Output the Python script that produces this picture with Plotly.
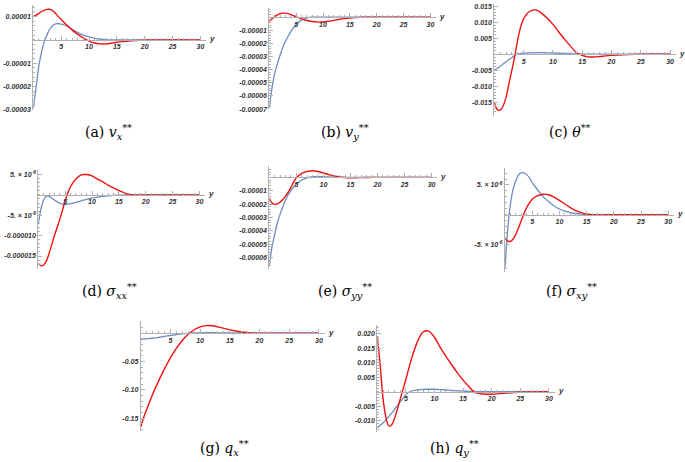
#! /usr/bin/env python3

import numpy as np
import plotly.graph_objects as go

W, H = 685, 462

# common abscissa (y coordinate of the plots)
yy = [0, 0.5, 1, 1.5, 2, 2.5, 3, 3.5, 4, 4.5, 5, 6, 7, 8, 9, 10, 11, 12, 13, 14,
      15, 16, 17, 18, 19, 20, 22, 24, 26, 30]

# (a) v_x**   values x 1e-5
vx_blue = [-2.92, -2.05, -1.1, -0.5, -0.05, 0.25, 0.48, 0.62, 0.69, 0.70, 0.68,
           0.6, 0.46, 0.32, 0.21, 0.13, 0.07, 0.03, 0.01, 0, 0, 0, 0, 0, 0, 0, 0, 0, 0, 0]
vx_red = [1.0, 1.06, 1.14, 1.22, 1.28, 1.31, 1.31, 1.25, 1.13, 1.0, 0.88,
          0.64, 0.42, 0.24, 0.08, -0.05, -0.13, -0.17, -0.17, -0.14, -0.1, -0.07,
          -0.05, -0.03, -0.02, -0.01, 0, 0, 0, 0]

# (b) v_y**   x 1e-5
vy_blue = [-6.93, -5.4, -4.3, -3.55, -2.9, -2.3, -1.85, -1.45, -1.1, -0.8, -0.55,
           -0.22, -0.05, 0, 0, 0, 0, 0, 0, 0, 0, 0, 0, 0, 0, 0, 0, 0, 0, 0]
vy_red = [-0.3, -0.12, 0.05, 0.18, 0.27, 0.31, 0.31, 0.27, 0.2, 0.12, 0.04,
          -0.12, -0.25, -0.33, -0.37, -0.36, -0.31, -0.24, -0.17, -0.11, -0.06,
          -0.03, -0.01, 0, 0, 0, 0, 0, 0, 0]

# (c) theta**   x 1e-3
th_blue = [-5.0, -4.4, -3.8, -3.1, -2.4, -1.7, -1.1, -0.45, 0.05, 0.2, 0.3,
           0.4, 0.48, 0.48, 0.42, 0.35, 0.27, 0.2, 0.13, 0.08, 0.04, 0.02,
           0, 0, 0, 0, 0, 0, 0, 0]
th_red = [-15.0, -17.3, -17.5, -16.2, -13.5, -9.2, -5.0, -0.5, 4.5, 8.5, 11.0,
          13.3, 13.8, 12.9, 11.3, 9.3, 6.9, 4.6, 2.5, 0.5, -0.4, -0.85, -0.9,
          -0.75, -0.55, -0.4, -0.18, -0.06, -0.01, 0]

# (d) sigma_xx**   x 1e-6
sxx_blue = [-7.0, -3.4, -1.2, -0.35, -0.35, -0.75, -1.25, -1.7, -2.05, -2.28, -2.35,
            -2.15, -1.8, -1.45, -1.1, -0.8, -0.55, -0.35, -0.2, -0.1, -0.05, -0.02,
            0, 0, 0, 0, 0, 0, 0, 0]
sxx_red = [-16.8, -17.4, -17.2, -16.2, -14.4, -12.2, -10.0, -8.0, -6.0, -3.8, -1.4,
           2.0, 3.9, 4.9, 5.0, 4.7, 3.9, 3.2, 2.4, 1.7, 1.1, 0.5, 0.1, 0.0,
           -0.03, -0.03, -0.01, 0, 0, 0]

# (e) sigma_yy**   x 1e-5
syy_blue = [-6.57, -5.2, -4.25, -3.4, -2.75, -2.2, -1.7, -1.3, -1.0, -0.72, -0.5,
            -0.2, -0.03, 0.05, 0.06, 0.05, 0.03, 0.01, 0, 0, 0, 0, 0, 0, 0, 0, 0, 0, 0, 0]
syy_red = [-1.6, -1.92, -2.02, -1.98, -1.85, -1.65, -1.4, -1.1, -0.75, -0.35, -0.03,
           0.3, 0.45, 0.5, 0.44, 0.33, 0.2, 0.1, 0.03, -0.01, -0.03, -0.03, -0.02,
           -0.01, 0, 0, 0, 0, 0, 0]

# (f) sigma_xy**   x 1e-6
sxy_blue = [-8.9, -2.4, 1.8, 4.3, 5.7, 6.7, 7.05, 7.05, 6.75, 6.2, 5.4,
            4.2, 3.05, 2.2, 1.5, 0.95, 0.6, 0.35, 0.2, 0.1, 0.05, 0.02,
            0, 0, 0, 0, 0, 0, 0, 0]
sxy_red = [-3.9, -4.45, -4.5, -4.1, -3.3, -2.2, -1.0, 0.2, 1.2, 2.0, 2.6,
           3.2, 3.45, 3.35, 2.95, 2.4, 1.8, 1.2, 0.7, 0.35, 0.1, 0.0, -0.03,
           -0.03, -0.02, -0.01, 0, 0, 0, 0]

# (g) q_x**   x 1e-2
qx_blue = [-1.08, -1.04, -1.0, -0.95, -0.9, -0.83, -0.75, -0.67, -0.58, -0.5, -0.42,
           -0.26, -0.13, -0.03, 0.03, 0.06, 0.07, 0.07, 0.06, 0.05, 0.04, 0.03,
           0.02, 0.01, 0, 0, 0, 0, 0, 0]
qx_red = [-16.55, -14.85, -13.45, -12.1, -10.8, -9.6, -8.45, -7.35, -6.3, -5.3, -4.35,
          -2.7, -1.3, -0.2, 0.6, 1.1, 1.33, 1.3, 1.1, 0.85, 0.6, 0.38, 0.2,
          0.08, 0.02, 0, -0.02, -0.01, 0, 0]

# (h) q_y**   x 1e-3
qy_blue = [-12.5, -11.6, -10.7, -9.7, -8.6, -7.4, -6.1, -4.8, -3.5, -2.3, -1.0,
           0.25, 0.6, 0.8, 0.85, 0.85, 0.75, 0.6, 0.45, 0.32, 0.2, 0.12, 0.06,
           0.02, 0.01, 0, 0, 0, 0, 0]
qy_red = [19.0, 9.3, -2.3, -8.8, -11.8, -11.5, -9.3, -6.1, -2.6, 0.8, 4.3,
          11.5, 17.2, 20.6, 20.9, 18.8, 15.3, 12.2, 9.3, 6.5, 4.0, 1.8, -0.2,
          -0.7, -0.85, -0.85, -0.55, -0.25, -0.08, 0]

x_ticks = [5, 10, 15, 20, 25, 30]
x_ticktext = [str(v) for v in x_ticks]

sci_p = "5. \u00d7 10<sup>-6</sup>"
sci_m = "-5. \u00d7 10<sup>-6</sup>"

# panel setup: data, scale, pixel box (x of y=0, px per unit, top, bottom), y range, ticks, caption
panels = [
    dict(blue=vx_blue, red=vx_red, scale=1e-5, box=(33.3, 5.57, 3, 109.1),
         yr=(-3.0e-5, 1.5e-5), tv=[1e-5, -1e-5, -2e-5, -3e-5],
         tt=["0.00001", "-0.00001", "-0.00002", "-0.00003"], mdt=2e-6,
         cap="(a) <i>v</i><sub><i>x</i></sub><sup>**</sup>", cxy=(108, 131)),
    dict(blue=vy_blue, red=vy_red, scale=1e-5, box=(269.3, 5.37, 6.1, 108.3),
         yr=(-7.0e-5, 0.7e-5), tv=[-1e-5 * k for k in range(1, 8)],
         tt=["-0.0000%d" % k for k in range(1, 8)], mdt=2e-6,
         cap="(b) <i>v</i><sub><i>y</i></sub><sup>**</sup>", cxy=(345, 131)),
    dict(blue=th_blue, red=th_red, scale=1e-3, box=(494.3, 5.86, 2.5, 114.9),
         yr=(-0.0192, 0.0155), tv=[0.015, 0.010, 0.005, -0.005, -0.010, -0.015],
         tt=["0.015", "0.010", "0.005", "-0.005", "-0.010", "-0.015"], mdt=0.001,
         cap="(c) <i>\u03b8</i><sup>**</sup>", cxy=(570, 130)),
    dict(blue=sxx_blue, red=sxx_red, scale=1e-6, box=(38.3, 5.37, 169.5, 270),
         yr=(-18.2e-6, 6.2e-6), tv=[5e-6, -5e-6, -1e-5, -1.5e-5],
         tt=[sci_p, sci_m, "-0.000010", "-0.000015"], mdt=1e-6,
         cap="(d) <i>\u03c3</i><sub><i>xx</i></sub><sup>**</sup>", cxy=(109, 292)),
    dict(blue=syy_blue, red=syy_red, scale=1e-5, box=(269.3, 5.41, 165.8, 269.8),
         yr=(-6.85e-5, 0.85e-5), tv=[-1e-5 * k for k in range(1, 7)],
         tt=["-0.0000%d" % k for k in range(1, 7)], mdt=2e-6,
         cap="(e) <i>\u03c3</i><sub><i>yy</i></sub><sup>**</sup>", cxy=(345, 292)),
    dict(blue=sxy_blue, red=sxy_red, scale=1e-6, box=(505, 5.44, 168.2, 273.2),
         yr=(-9.7e-6, 7.8e-6), tv=[5e-6, -5e-6], tt=[sci_p, sci_m], mdt=1e-6,
         cap="(f) <i>\u03c3</i><sub><i>xy</i></sub><sup>**</sup>", cxy=(571, 292)),
    dict(blue=qx_blue, red=qx_red, scale=1e-2, box=(140.7, 5.94, 322.7, 433.5),
         yr=(-0.172, 0.021), tv=[-0.05, -0.10, -0.15], tt=["-0.05", "-0.10", "-0.15"],
         mdt=0.01, cap="(g) <i>q</i><sub><i>x</i></sub><sup>**</sup>", cxy=(224, 451)),
    dict(blue=qy_blue, red=qy_red, scale=1e-3, box=(377.3, 5.72, 326.6, 435),
         yr=(-0.014, 0.023), tv=[0.020, 0.015, 0.010, 0.005, -0.005, -0.010],
         tt=["0.020", "0.015", "0.010", "0.005", "-0.005", "-0.010"], mdt=0.001,
         cap="(h) <i>q</i><sub><i>y</i></sub><sup>**</sup>", cxy=(454, 451)),
]

BLUE = "#6a8cc4"
RED = "#f01010"
AXC = "#b0b0b0"
tickfont = dict(family="Liberation Sans", size=7, color="#333333", weight="bold", style="italic")
capfont = dict(family="DejaVu Serif", size=14, color="#000000")

fig = go.Figure()
layout = {}
annotations = []

for i, p in enumerate(panels, start=1):
    ax = "" if i == 1 else str(i)
    px0, sx, top, bot = p["box"]
    x0 = px0 / W
    x1 = (px0 + 31 * sx) / W
    y0 = 1 - bot / H
    y1 = 1 - top / H
    lo, hi = p["yr"]
    zero = y0 + (0 - lo) / (hi - lo) * (y1 - y0)

    fig.add_trace(go.Scatter(x=yy, y=np.array(p["blue"]) * p["scale"],
                             xaxis="x" + ax, yaxis="y" + ax, mode="lines",
                             line=dict(color=BLUE, width=1.3, shape="spline", smoothing=0.8)))
    fig.add_trace(go.Scatter(x=yy, y=np.array(p["red"]) * p["scale"],
                             xaxis="x" + ax, yaxis="y" + ax, mode="lines",
                             line=dict(color=RED, width=1.4, shape="spline", smoothing=0.8)))

    layout["xaxis" + ax] = dict(domain=[x0, x1], range=[0, 31], anchor="free", position=zero,
                                showline=True, linecolor=AXC, linewidth=1,
                                showgrid=False, zeroline=False,
                                tickmode="array", tickvals=x_ticks, ticktext=x_ticktext,
                                ticks="inside", ticklen=4, tickcolor=AXC, tickfont=tickfont,
                                minor=dict(tickmode="linear", tick0=0, dtick=1, ticks="inside",
                                           ticklen=2, tickcolor=AXC))
    layout["yaxis" + ax] = dict(domain=[y0, y1], range=[lo, hi], anchor="x" + ax,
                                showline=True, linecolor=AXC, linewidth=1,
                                showgrid=False, zeroline=False,
                                tickmode="array", tickvals=p["tv"], ticktext=p["tt"],
                                ticks="inside", ticklen=4, tickcolor=AXC, tickfont=tickfont,
                                minor=dict(tickmode="linear", tick0=0, dtick=p["mdt"],
                                           ticks="inside", ticklen=2, tickcolor=AXC))

    annotations.append(dict(xref="x" + ax + " domain", yref="paper", x=1, y=zero,
                            xanchor="left", yanchor="middle", xshift=1, yshift=1,
                            text="<b><i>y</i></b>", showarrow=False,
                            font=dict(family="Liberation Sans", size=8, color="#333333")))
    cx, cy = p["cxy"]
    annotations.append(dict(xref="paper", yref="paper", x=cx / W, y=1 - cy / H,
                            xanchor="center", yanchor="middle", text=p["cap"], showarrow=False,
                            font=capfont))

fig.update_layout(width=W, height=H, margin=dict(l=0, r=0, t=0, b=0),
                  paper_bgcolor="white", plot_bgcolor="white", showlegend=False,
                  annotations=annotations, **layout)

# page body has a default 8px margin; drop it so the figure sits at the window corner
fig.write_html("out.html", config={"displayModeBar": False},
               post_script="document.body.style.margin='0';")
